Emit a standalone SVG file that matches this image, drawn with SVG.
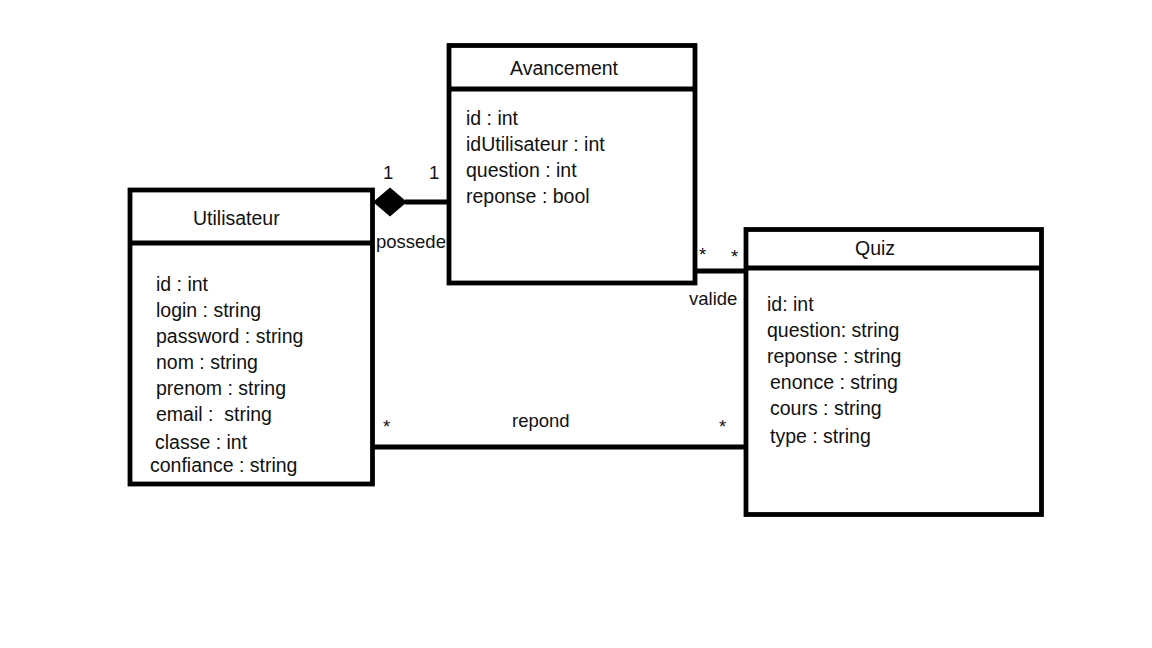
<svg xmlns="http://www.w3.org/2000/svg" width="1152" height="648" viewBox="0 0 1152 648">
<style>
.box{fill:#fff;stroke:#000;stroke-width:4.8}
.ln{stroke:#000;stroke-width:4.8;fill:none}
text{font-family:"Liberation Sans",Arial,sans-serif;font-size:19.5px;fill:#111;white-space:pre}
text.lb{font-size:18.5px}
</style>
<rect width="1152" height="648" fill="#fff"/>
<g id="connectors">
<line class="ln" x1="405" y1="202" x2="449" y2="202"/>
<polygon points="373,202 390,187.5 407,202 390,216.5" fill="#000"/>
<line class="ln" x1="693" y1="271" x2="746" y2="271"/>
<line class="ln" x1="372" y1="447" x2="746" y2="447"/>
<text class="lb" x="383" y="179">1</text>
<text class="lb" x="429" y="179">1</text>
<text class="lb" x="376" y="248">possede</text>
<text class="lb" x="699" y="261">*</text>
<text class="lb" x="731" y="263">*</text>
<text class="lb" x="689" y="305">valide</text>
<text class="lb" x="383" y="433">*</text>
<text class="lb" x="512" y="427">repond</text>
<text class="lb" x="719" y="433">*</text>
</g>
<g id="utilisateur">
<rect class="box" x="130" y="190" width="242.5" height="294"/>
<line class="ln" x1="130" y1="243" x2="372.5" y2="243"/>
<text x="193" y="225">Utilisateur</text>
<text x="156" y="291">id : int</text>
<text x="156" y="317">login : string</text>
<text x="156" y="343">password : string</text>
<text x="156" y="369">nom : string</text>
<text x="156" y="395">prenom : string</text>
<text x="156" y="421" xml:space="preserve">email :  string</text>
<text x="155" y="449">classe : int</text>
<text x="150" y="472">confiance : string</text>
</g>
<g id="avancement">
<rect class="box" x="449" y="45.5" width="246" height="237.5"/>
<line class="ln" x1="449" y1="89" x2="695" y2="89"/>
<text x="510" y="75">Avancement</text>
<text x="466" y="125">id : int</text>
<text x="466" y="151">idUtilisateur : int</text>
<text x="466" y="177">question : int</text>
<text x="466" y="203">reponse : bool</text>
</g>
<g id="quiz">
<rect class="box" x="746" y="229.5" width="295.5" height="285"/>
<line class="ln" x1="746" y1="268" x2="1041.5" y2="268"/>
<text x="855" y="255">Quiz</text>
<text x="767" y="311">id: int</text>
<text x="767" y="337">question: string</text>
<text x="767" y="363">reponse : string</text>
<text x="770" y="389">enonce : string</text>
<text x="770" y="415">cours : string</text>
<text x="770" y="443">type : string</text>
</g>
</svg>
